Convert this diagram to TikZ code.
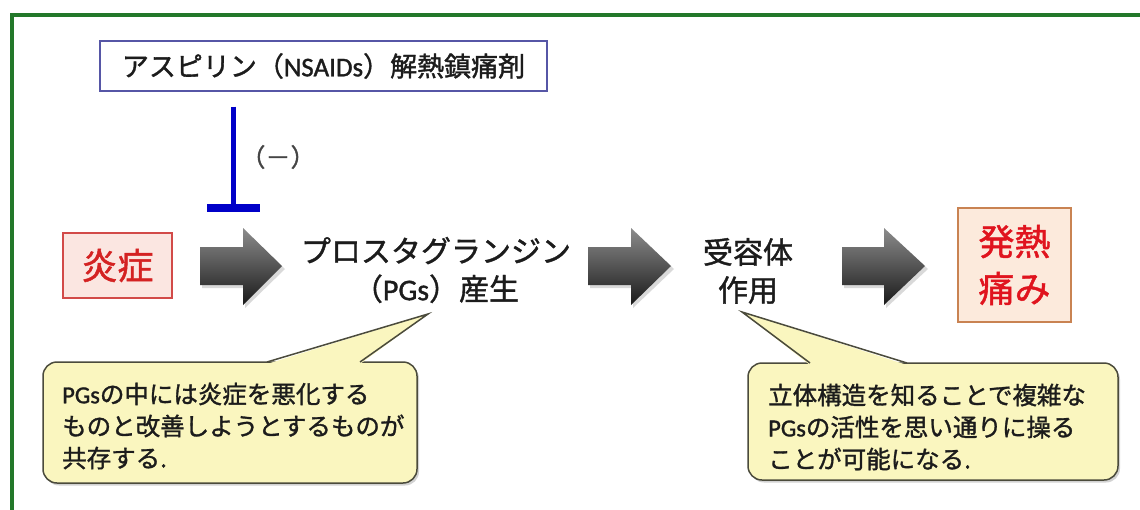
\documentclass[tikz,border=0pt]{standalone}
\usepackage{fontspec}
\setmainfont{Noto Sans CJK JP}[FakeBold=1.3]
\newfontfamily\latfont{Carlito}[FakeBold=1.3]
\usetikzlibrary{calc,shadows}
\definecolor{framegreen}{HTML}{23782A}
\definecolor{aspblue}{HTML}{5656A6}
\definecolor{inhblue}{HTML}{0000C8}
\definecolor{redtxt}{HTML}{D42222}
\definecolor{redborder}{HTML}{D24A48}
\definecolor{redfill}{HTML}{FBE6E1}
\definecolor{orborder}{HTML}{C98352}
\definecolor{orfill}{HTML}{FCEADC}
\definecolor{feverred}{HTML}{E0141E}
\definecolor{callfill}{HTML}{FAF6BF}
\definecolor{callline}{HTML}{4B4B3C}
\definecolor{txtdark}{HTML}{1C1C1C}
\definecolor{minusgray}{HTML}{454545}
\tikzset{
 frameline/.style={draw=framegreen, line width=4pt},
 aspbox/.style={draw=aspblue, line width=1.3pt, fill=white, minimum width=447pt, minimum height=50pt, inner sep=0pt, font=\fontsize{27}{30}\selectfont, text=txtdark},
 inhline/.style={draw=inhblue, line width=5pt},
 inhbarline/.style={draw=inhblue, line width=8pt},
 minuslabel/.style={font=\fontsize{25}{27}\selectfont, text=minusgray, inner sep=0pt},
 redbox/.style={draw=redborder, line width=1.5pt, fill=redfill, text=redtxt, minimum width=109pt, minimum height=65pt, inner sep=0pt, font=\fontsize{36}{40}\selectfont},
 stagetext/.style={align=center, text=txtdark, inner sep=0pt, font=\fontsize{30}{38}\selectfont},
 orbox/.style={draw=orborder, line width=1.5pt, fill=orfill, text=feverred, minimum width=113pt, minimum height=114pt, inner sep=0pt, align=center, font=\fontsize{36}{47}\selectfont},
 blockarrow/.style={top color=black!45, bottom color=black!90, draw=none},
 arrowshadow/.style={fill=black, opacity=0.15},
 callbox/.style={draw=callline, line width=1.5pt, fill=callfill, rounded corners=14pt, inner sep=0pt, drop shadow={shadow xshift=2pt, shadow yshift=-2.5pt, opacity=0.35}},
 callpointer/.style={fill=callfill, draw=none},
 callpointerline/.style={draw=callline, line width=1.5pt, line join=miter},
 calltext/.style={align=left, text=txtdark, inner sep=0pt, font=\fontsize{24.5}{32}\selectfont, anchor=west},
}
\begin{document}
\begin{tikzpicture}[x=1pt,y=-1pt]
\useasboundingbox (0,0) rectangle (1140,509);
\clip (0,0) rectangle (1140,509);
\fill[white] (0,0) rectangle (1140,509);
\draw[frameline] (12,15) rectangle (1175,530);

% aspirin box and inhibition
\node[aspbox] (asp) at (323.5,66) {アスピリン（{\latfont NSAIDs}）解熱鎮痛剤};
\coordinate (inhbar) at (233.5,208);
\draw[inhline] ($(asp.south -| inhbar)+(0,15)$) -- (inhbar);
\draw[inhbarline] ($(inhbar)+(-26.5,0)$) -- ($(inhbar)+(26.5,0)$);
\node[minuslabel] (neg) at (278,157) {（－）};

% stages
\node[redbox] (inflam) at (117.5,265.5) {炎症};
\node[stagetext] (pg) at (436,270) {プロスタグランジン\\（{\latfont PGs}）産生};
\node[stagetext] (rec) at (748,271) {受容体\\作用};
\node[orbox] (fever) at (1014.5,265) {発熱\\痛み};

% block arrows
\foreach \a/\b/\c in {200/243/282,588/631/671,842/884/925}{
  \fill[arrowshadow] (\a+2,250) -- (\b+2,250) -- (\b+2,231) -- (\c+3,269) -- (\b+2,308) -- (\b+2,288) -- (\a+2,288) -- cycle;
  \shade[blockarrow] (\a,247) -- (\b,247) -- (\b,228) -- (\c,266) -- (\b,305) -- (\b,285) -- (\a,285) -- cycle;
}

% callout 1
\node[callbox, minimum width=374pt, minimum height=121pt] (c1box) at (230,422.5) {};
\coordinate (c1tip) at (428,314);
\fill[callpointer] (267,364) -- (c1tip) -- (360,364) -- cycle;
\draw[callpointerline] (267,362) -- (c1tip) -- (360,362);
\node[calltext] (c1text) at (62,426) {{\latfont PGs}の中には炎症を悪化する\\ものと改善しようとするものが\\共存する.};

% callout 2
\node[callbox, minimum width=370pt, minimum height=117pt] (c2box) at (933,421.5) {};
\coordinate (c2tip) at (742,312);
\fill[callpointer] (810,365) -- (c2tip) -- (907,365) -- cycle;
\draw[callpointerline] (810,363) -- (c2tip) -- (907,363);
\node[calltext] (c2text) at (768,427) {立体構造を知ることで複雑な\\{\latfont PGs}の活性を思い通りに操る\\ことが可能になる.};
\end{tikzpicture}
\end{document}
